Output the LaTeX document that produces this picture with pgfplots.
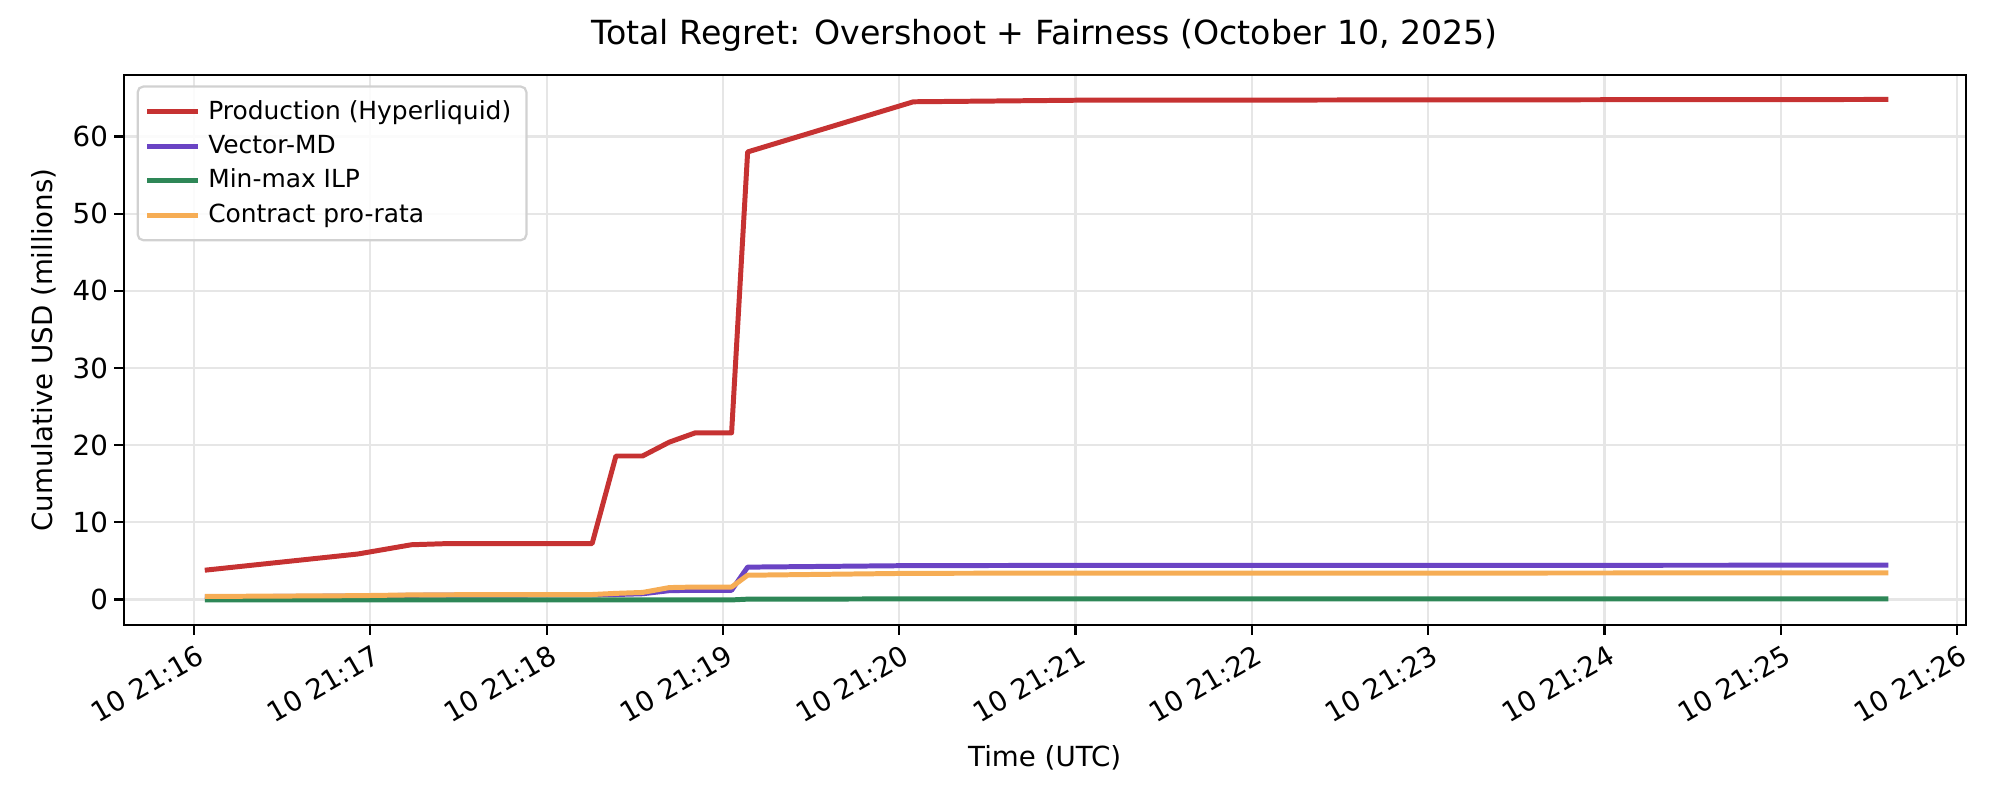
\documentclass[border=0pt]{standalone}
\usepackage{fontspec}
\setmainfont{DejaVu Sans}
\usepackage{pgfplots}
\pgfplotsset{compat=1.18}
\definecolor{cRed}{RGB}{198,50,50}
\definecolor{cPurple}{RGB}{106,68,196}
\definecolor{cGreen}{RGB}{46,135,87}
\definecolor{cOrange}{RGB}{246,173,85}
\definecolor{gridc}{RGB}{230,230,230}
\begin{document}
\begin{tikzpicture}
\path[use as bounding box] (-0.6185in,-0.875in) rectangle (9.3815in,3.125in);
\begin{axis}[
  at={(0,0)}, anchor=south west,
  scale only axis,
  width=9.21in, height=2.75in,
  xmin=-0.399, xmax=10.049,
  ymin=-3.3, ymax=67.97,
  xtick={0,1,2,3,4,5,6,7,8,9,10},
  xticklabels={10 21:16,10 21:17,10 21:18,10 21:19,10 21:20,10 21:21,10 21:22,10 21:23,10 21:24,10 21:25,10 21:26},
  ytick={0,10,20,30,40,50,60},
  /pgf/number format/assume math mode=true,
  tick label style={font=\fontsize{10}{12}\selectfont},
  xticklabel style={rotate=30, anchor=north east, inner sep=1pt, yshift=-2pt},
  yticklabel style={inner sep=2pt},
  tick align=outside,
  tick pos=left,
  major tick length=3.5pt,
  tick style={black, line width=0.8pt},
  axis line style={line width=0.8pt},
  grid=major,
  major grid style={gridc, line width=0.8pt},
  title={Total Regret: Overshoot + Fairness (October 10, 2025)},
  title style={font=\fontsize{12}{14}\selectfont, yshift=-1pt},
  xlabel={Time (UTC)},
  ylabel={Cumulative USD (millions)},
  label style={font=\fontsize{10}{12}\selectfont},
  xlabel style={yshift=-2.7pt},
  ylabel style={yshift=0.3pt},
  legend style={at={(0.007,0.981)}, anchor=north west, draw=black!18, rounded corners=2pt,
    fill=white, fill opacity=0.85, text opacity=1, font=\fontsize{9}{10}\selectfont,
    row sep=0.2pt, inner xsep=2.5pt, inner ysep=3pt, line width=0.8pt,
    nodes={inner xsep=3pt}},
  legend cell align=left,
  legend image code/.code={\draw[#1, line width=1.8pt] (0cm,0cm) -- (0.64cm,0cm);},
  every axis plot/.append style={line width=1.8pt, line join=round},
]
\addplot[cRed] coordinates {
(0.061,3.8) (0.929,5.9) (1.233,7.1) (1.438,7.25) (2.258,7.25) (2.393,18.6) (2.544,18.6)
(2.696,20.4) (2.843,21.6) (3.049,21.6) (3.14,58.0) (4.08,64.5) (5.0,64.7) (9.61,64.8)};
\addlegendentry{Production (Hyperliquid)}
\addplot[cPurple] coordinates {
(0.061,0.35) (0.929,0.45) (1.233,0.55) (1.438,0.57) (2.258,0.6) (2.393,0.65) (2.544,0.75)
(2.696,1.15) (2.843,1.2) (3.049,1.2) (3.14,4.2) (4.08,4.4) (5.0,4.42) (9.61,4.45)};
\addlegendentry{Vector-MD}
\addplot[cGreen] coordinates {
(0.061,-0.05) (0.929,-0.05) (1.233,-0.05) (1.438,-0.05) (2.258,-0.05) (2.393,-0.05) (2.544,-0.05)
(2.696,-0.05) (2.843,-0.05) (3.049,-0.05) (3.14,0.05) (4.08,0.08) (5.0,0.1) (9.61,0.1)};
\addlegendentry{Min-max ILP}
\addplot[cOrange] coordinates {
(0.061,0.4) (0.929,0.5) (1.233,0.6) (1.438,0.62) (2.258,0.65) (2.393,0.8) (2.544,0.92)
(2.696,1.55) (2.843,1.62) (3.049,1.62) (3.14,3.15) (4.08,3.4) (5.0,3.42) (9.61,3.45)};
\addlegendentry{Contract pro-rata}
\end{axis}
\end{tikzpicture}
\end{document}
